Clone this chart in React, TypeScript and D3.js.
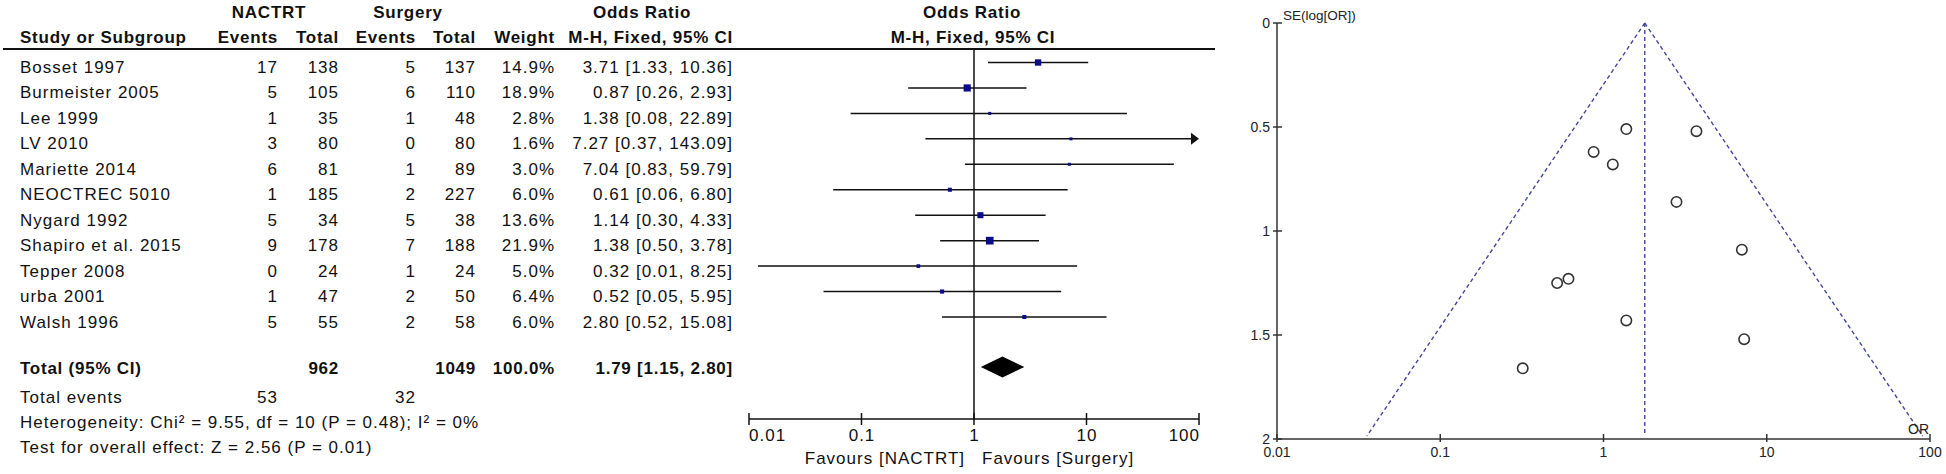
import React from 'react';
import * as d3 from 'd3';

// study rows
const studies = [
  'Bosset 1997', 'Burmeister 2005', 'Lee 1999', 'LV 2010', 'Mariette 2014', 'NEOCTREC 5010',
  'Nygard 1992', 'Shapiro et al. 2015', 'Tepper 2008', 'urba 2001', 'Walsh 1996'
];
const nactrtEvents = [17, 5, 1, 3, 6, 1, 5, 9, 0, 1, 5];
const nactrtTotal = [138, 105, 35, 80, 81, 185, 34, 178, 24, 47, 55];
const surgeryEvents = [5, 6, 1, 0, 1, 2, 5, 7, 1, 2, 2];
const surgeryTotal = [137, 110, 48, 80, 89, 227, 38, 188, 24, 50, 58];
const weights = [14.9, 18.9, 2.8, 1.6, 3.0, 6.0, 13.6, 21.9, 5.0, 6.4, 6.0];
const oddsRatios = [3.71, 0.87, 1.38, 7.27, 7.04, 0.61, 1.14, 1.38, 0.32, 0.52, 2.80];
const ciLower = [1.33, 0.26, 0.08, 0.37, 0.83, 0.056, 0.30, 0.50, 0.012, 0.046, 0.52];
const ciUpper = [10.36, 2.93, 22.89, 143.09, 59.79, 6.80, 4.33, 3.78, 8.25, 5.95, 15.08];
// funnel plot standard errors
const seLogOR = [0.52, 0.62, 1.43, 1.52, 1.09, 1.23, 0.68, 0.51, 1.66, 1.25, 0.86];

// pooled result
const pooledOR = 1.79;
const pooledLower = 1.15;
const pooledUpper = 2.80;
const sumNactrt = 962;
const sumSurgery = 1049;
const sumWeight = 100.0;
const eventsNactrt = 53;
const eventsSurgery = 32;
const heterogeneity = 'Heterogeneity: Chi² = 9.55, df = 10 (P = 0.48); I² = 0%';
const overallTest = 'Test for overall effect: Z = 2.56 (P = 0.01)';

const orTicks = [0.01, 0.1, 1, 10, 100];
const orTickLabels = ['0.01', '0.1', '1', '10', '100'];
const seTicks = [0, 0.5, 1, 1.5, 2];
const seTickLabels = ['0', '0.5', '1', '1.5', '2'];

const FONT = "'Liberation Sans', Arial, sans-serif";
const ink = '#111';
const navy = '#0b0b8c';
const funnelBlue = '#45459c';

const fmtCI = (o: number, l: number, u: number) =>
  `${o.toFixed(2)} [${l.toFixed(2)}, ${u.toFixed(2)}]`;

export default function App() {
  // rows
  const rowY = d3.scaleLinear().domain([0, studies.length - 1]).range([62.5, 317]);
  const totalY = 367;

  // forest scale
  const fx = d3.scaleLog().domain([0.01, 100]).range([749, 1199]);
  const axisY = 419;
  const boxSize = d3.scaleSqrt().domain([0, 21.9]).range([0, 7.7]);

  // funnel scales
  const gx = d3.scaleLog().domain([0.01, 100]).range([1277, 1930]);
  const gy = d3.scaleLinear().domain([0, 2]).range([23, 439]);
  const z = 1.96;
  const seMax = 2;
  const funnelLeft = Math.exp(Math.log(pooledOR) - z * seMax);
  const funnelRight = Math.exp(Math.log(pooledOR) + z * seMax);

  const txt = { fontFamily: FONT, fontSize: 17, letterSpacing: 1, fill: ink } as const;
  const bold = { fontFamily: FONT, fontSize: 17, letterSpacing: 0.75, fontWeight: 700, fill: ink } as const;

  const cols = [277, 338, 415, 475, 554, 732];

  return (
    <svg width={1946} height={474} style={{ position: 'absolute', left: 0, top: 0, background: '#fff' }}>
      <rect width={1946} height={474} fill="#fff" />

      {/* table headers */}
      <text {...bold} x={269} y={18} textAnchor="middle">NACTRT</text>
      <text {...bold} x={408} y={18} textAnchor="middle">Surgery</text>
      <text {...bold} x={642} y={18} textAnchor="middle">Odds Ratio</text>
      <text {...bold} x={972} y={18} textAnchor="middle">Odds Ratio</text>
      <text {...bold} x={20} y={43}>Study or Subgroup</text>
      {['Events', 'Total', 'Events', 'Total', 'Weight', 'M-H, Fixed, 95% CI'].map((h, i) => (
        <text key={h + i} {...bold} x={cols[i] + 1} y={43} textAnchor="end">{h}</text>
      ))}
      <text {...bold} x={973} y={43} textAnchor="middle">M-H, Fixed, 95% CI</text>
      <line x1={3} x2={1215} y1={49} y2={49} stroke={ink} strokeWidth={2} />

      {/* study rows */}
      {studies.map((s, i) => {
        const y = rowY(i) + 10.5;
        const vals = [
          String(nactrtEvents[i]), String(nactrtTotal[i]), String(surgeryEvents[i]),
          String(surgeryTotal[i]), `${weights[i].toFixed(1)}%`, fmtCI(oddsRatios[i], ciLower[i], ciUpper[i])
        ];
        return (
          <g key={s}>
            <text {...txt} x={20} y={y}>{s}</text>
            {vals.map((v, j) => (
              <text key={j} {...txt} x={cols[j] + 1} y={y} textAnchor="end">{v}</text>
            ))}
          </g>
        );
      })}

      {/* totals */}
      <text {...bold} x={20} y={374}>Total (95% CI)</text>
      <text {...bold} x={cols[1] + 1} y={374} textAnchor="end">{sumNactrt}</text>
      <text {...bold} x={cols[3] + 1} y={374} textAnchor="end">{sumSurgery}</text>
      <text {...bold} x={cols[4] + 1} y={374} textAnchor="end">{`${sumWeight.toFixed(1)}%`}</text>
      <text {...bold} x={cols[5] + 1} y={374} textAnchor="end">{fmtCI(pooledOR, pooledLower, pooledUpper)}</text>
      <text {...txt} x={20} y={403}>Total events</text>
      <text {...txt} x={cols[0] + 1} y={403} textAnchor="end">{eventsNactrt}</text>
      <text {...txt} x={cols[2] + 1} y={403} textAnchor="end">{eventsSurgery}</text>
      <text {...txt} x={20} y={428}>{heterogeneity}</text>
      <text {...txt} x={20} y={453}>{overallTest}</text>

      {/* forest plot */}
      <line x1={fx(1)} x2={fx(1)} y1={49} y2={axisY} stroke={ink} strokeWidth={1.5} />
      {studies.map((s, i) => {
        const y = rowY(i);
        const lo = Math.max(ciLower[i], 0.01);
        const clipped = ciUpper[i] > 100;
        const hiX = clipped ? fx(100) - 8 : fx(ciUpper[i]);
        const b = Math.max(3, boxSize(weights[i]));
        return (
          <g key={s}>
            <line x1={fx(lo)} x2={hiX} y1={y} y2={y} stroke={ink} strokeWidth={1.5} />
            {clipped && (
              <path d={`M${fx(100)},${y} L${fx(100) - 8},${y - 6} L${fx(100) - 8},${y + 6} Z`} fill={ink} />
            )}
            <rect x={fx(oddsRatios[i]) - b / 2} y={y - b / 2} width={b} height={b} fill={navy} />
          </g>
        );
      })}
      <path
        d={`M${fx(pooledLower)},${totalY} L${fx(pooledOR)},${totalY - 10.5} L${fx(pooledUpper)},${totalY} L${fx(pooledOR)},${totalY + 10.5} Z`}
        fill="#000"
      />
      <line x1={fx(0.01)} x2={fx(100)} y1={axisY} y2={axisY} stroke={ink} strokeWidth={1.5} />
      {orTicks.map((t, i) => (
        <g key={t}>
          <line x1={fx(t)} x2={fx(t)} y1={axisY - 6} y2={axisY + 6} stroke={ink} strokeWidth={1.5} />
          <text
            {...txt}
            x={fx(t) + (i === 0 ? 0 : i === orTicks.length - 1 ? 1 : 0.5)}
            y={441}
            textAnchor={i === 0 ? 'start' : i === orTicks.length - 1 ? 'end' : 'middle'}
          >
            {orTickLabels[i]}
          </text>
        </g>
      ))}
      <text {...txt} x={fx(1) - 9} y={464} textAnchor="end">Favours [NACTRT]</text>
      <text {...txt} x={fx(1) + 8} y={464}>Favours [Surgery]</text>

      {/* funnel plot */}
      <line x1={gx(pooledOR)} x2={gx(pooledOR)} y1={gy(0)} y2={gy(seMax) - 3}
        stroke={funnelBlue} strokeWidth={1.4} strokeDasharray="4,3" />
      <line x1={gx(pooledOR)} x2={gx(funnelLeft)} y1={gy(0)} y2={gy(seMax) - 3}
        stroke={funnelBlue} strokeWidth={1.4} strokeDasharray="4,3" />
      <line x1={gx(pooledOR)} x2={gx(funnelRight)} y1={gy(0)} y2={gy(seMax) - 3}
        stroke={funnelBlue} strokeWidth={1.4} strokeDasharray="4,3" />
      {studies.map((s, i) => (
        <circle key={s} cx={gx(oddsRatios[i])} cy={gy(seLogOR[i])} r={5.2}
          fill="none" stroke="#333" strokeWidth={1.6} />
      ))}
      <line x1={gx(0.01)} x2={gx(0.01)} y1={gy(0)} y2={gy(2)} stroke="#333" strokeWidth={1.5} />
      <line x1={gx(0.01)} x2={gx(100)} y1={gy(2)} y2={gy(2)} stroke="#333" strokeWidth={1.5} />
      {seTicks.map((t, i) => (
        <g key={t}>
          <line x1={gx(0.01) - 4} x2={gx(0.01) + 5} y1={gy(t)} y2={gy(t)} stroke="#333" strokeWidth={1.5} />
          <text x={gx(0.01) - 7} y={gy(t) + 5} textAnchor="end" fontFamily={FONT} fontSize={14} fill="#222">
            {seTickLabels[i]}
          </text>
        </g>
      ))}
      {orTicks.map((t, i) => (
        <g key={t}>
          <line x1={gx(t)} x2={gx(t)} y1={gy(2) - 5} y2={gy(2) + 3} stroke="#333" strokeWidth={1.5} />
          <text x={gx(t)} y={457} textAnchor="middle" fontFamily={FONT} fontSize={14} fill="#222">
            {orTickLabels[i]}
          </text>
        </g>
      ))}
      <text x={1283} y={20} fontFamily={FONT} fontSize={13.5} fill="#222">SE(log[OR])</text>
      <text x={1929} y={434} textAnchor="end" fontFamily={FONT} fontSize={14} fill="#222">OR</text>
    </svg>
  );
}
